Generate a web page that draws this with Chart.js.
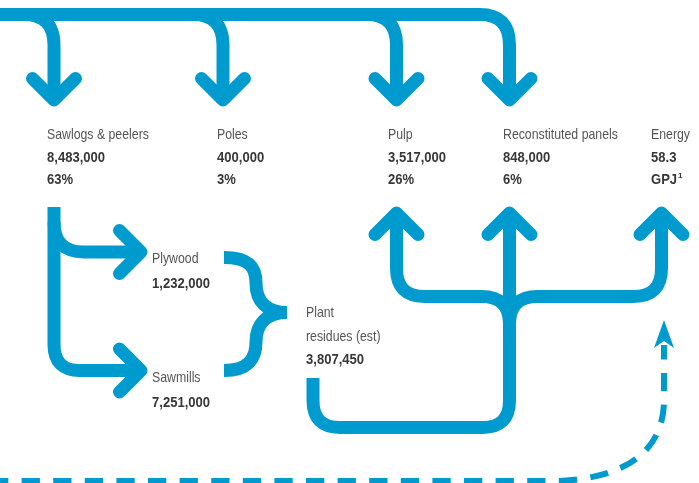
<!DOCTYPE html>
<html>
<head>
<meta charset="utf-8">
<script src="https://cdn.jsdelivr.net/npm/chart.js@4.4.1/dist/chart.umd.min.js"></script>
<style>
  html, body { margin: 0; padding: 0; background: #fff; }
  #wrap { width: 699px; height: 483px; position: relative; }
</style>
</head>
<body>
<div id="wrap"><canvas id="flowChart"></canvas></div>
<script>
// Wood flow diagram
const products = ['Sawlogs & peelers', 'Poles', 'Pulp', 'Reconstituted panels'];
const volumes = [8483000, 400000, 3517000, 848000];
const shares = [63, 3, 26, 6];
const energyLabel = 'Energy';
const energyValue = 58.3;
const energyUnit = 'GPJ';
const processes = ['Plywood', 'Sawmills'];
const processVolumes = [1232000, 7251000];
const residueLabel = ['Plant', 'residues (est)'];
const residueVolume = 3807450;

// layout (in chart units = px)
const stemX = [54, 223, 396.5, 509.5];
const labelX = [47, 217, 388, 503];
const energyX = 651;
const energyStemX = 661.5;
const rowY = [139, 162, 184];
const processY = [252, 370.5];
const processLabelX = 152;
const residueX = 306;

const BLUE = '#009bce';
const GREY = '#555555';
const DARK = '#383838';
const FONT = "'Liberation Sans', Arial, sans-serif";

function fmt(n) { return n.toLocaleString('en-US'); }

function stroke(ctx, sc, cmds, opt) {
  const X = v => sc.x.getPixelForValue(v);
  const Y = v => sc.y.getPixelForValue(v);
  ctx.save();
  ctx.beginPath();
  cmds.forEach(c => {
    if (c[0] === 'M') ctx.moveTo(X(c[1]), Y(c[2]));
    else if (c[0] === 'L') ctx.lineTo(X(c[1]), Y(c[2]));
    else if (c[0] === 'Q') ctx.quadraticCurveTo(X(c[1]), Y(c[2]), X(c[3]), Y(c[4]));
    else if (c[0] === 'C') ctx.bezierCurveTo(X(c[1]), Y(c[2]), X(c[3]), Y(c[4]), X(c[5]), Y(c[6]));
    else if (c[0] === 'Z') ctx.closePath();
  });
  ctx.strokeStyle = BLUE;
  ctx.fillStyle = BLUE;
  ctx.lineWidth = opt.w || 13;
  ctx.lineCap = opt.cap || 'butt';
  ctx.lineJoin = opt.join || 'round';
  if (opt.dash) ctx.setLineDash(opt.dash);
  if (opt.fill) ctx.fill(); else ctx.stroke();
  ctx.restore();
}

function chevron(ctx, sc, x, y, dir) {
  const a = 21.5;
  let pts;
  if (dir === 'down') pts = [[x - a, y - a], [x, y], [x + a, y - a]];
  else if (dir === 'up') pts = [[x - a, y + a], [x, y], [x + a, y + a]];
  else pts = [[x - a, y - a], [x, y], [x - a, y + a]];
  stroke(ctx, sc, [['M', ...pts[0]], ['L', ...pts[1]], ['L', ...pts[2]]], { cap: 'round', join: 'round' });
}

// condensed text: regular font squeezed horizontally
function text(ctx, t, px, py, bold) {
  ctx.save();
  ctx.font = (bold ? 'bold ' : '') + '15px ' + FONT;
  ctx.fillStyle = bold ? DARK : GREY;
  ctx.translate(px, py);
  const k = bold ? 0.87 : 0.82;
  ctx.scale(k, 1);
  ctx.fillText(t, 0, 0);
  const w = ctx.measureText(t).width * k;
  ctx.restore();
  return w;
}

const flowPlugin = {
  id: 'flowPlugin',
  afterDatasetsDraw(chart) {
    const ctx = chart.ctx;
    const sc = chart.scales;
    const tipDown = 100, tipUp = 213, arrowTipX = 141;

    // top distribution bar
    stroke(ctx, sc, [['M', -5, 14.5], ['L', 480, 14.5], ['Q', stemX[3], 14.5, stemX[3], 45], ['L', stemX[3], tipDown]], {});
    for (let i = 0; i < 3; i++) {
      const x = stemX[i];
      stroke(ctx, sc, [['M', x - 30, 14.5], ['Q', x, 14.5, x, 45], ['L', x, tipDown]], {});
    }
    stemX.forEach(x => chevron(ctx, sc, x, tipDown, 'down'));

    // sawlogs -> plywood / sawmills
    const sx = stemX[0];
    stroke(ctx, sc, [['M', sx, 207], ['L', sx, processY[1] - 26], ['Q', sx, processY[1], sx + 26, processY[1]], ['L', arrowTipX, processY[1]]], {});
    stroke(ctx, sc, [['M', sx, processY[0] - 30], ['Q', sx, processY[0], sx + 30, processY[0]], ['L', arrowTipX, processY[0]]], {});
    processY.forEach(y => chevron(ctx, sc, arrowTipX, y, 'right'));

    // brace into plant residues
    stroke(ctx, sc, [['M', 224, 257.5], ['C', 248, 257.5, 256, 266, 256, 283], ['C', 256, 301, 266, 312.5, 287, 312.5]], {});
    stroke(ctx, sc, [['M', 287, 312.5], ['C', 266, 312.5, 256, 324, 256, 342], ['C', 256, 359, 248, 370.5, 224, 370.5]], {});

    // plant residues loop to pulp / panels / energy
    const mx = stemX[3], hy = 296.5, by = 427.5;
    stroke(ctx, sc, [['M', 313, 378], ['L', 313, by - 27], ['Q', 313, by, 340, by], ['L', mx - 27, by], ['Q', mx, by, mx, by - 27], ['L', mx, tipUp]], {});
    stroke(ctx, sc, [['M', stemX[2], tipUp], ['L', stemX[2], hy - 28], ['Q', stemX[2], hy, stemX[2] + 28, hy], ['L', mx - 28, hy], ['Q', mx, hy, mx, hy + 28]], {});
    stroke(ctx, sc, [['M', energyStemX, tipUp], ['L', energyStemX, hy - 28], ['Q', energyStemX, hy, energyStemX - 28, hy], ['L', mx + 28, hy], ['Q', mx, hy, mx, hy + 28]], {});
    [stemX[2], stemX[3], energyStemX].forEach(x => chevron(ctx, sc, x, tipUp, 'up'));

    // dashed energy feed
    const dx = 664;
    stroke(ctx, sc, [['M', -10, 481], ['L', 560, 481], ['C', 620, 478, dx, 455, dx, 400], ['L', dx, 345]], { w: 6, dash: [18.3, 13.3] });
    stroke(ctx, sc, [['M', dx, 320], ['L', dx + 10, 348], ['L', dx, 341], ['L', dx - 10, 348], ['Z']], { fill: true });

    // labels
    const X = v => sc.x.getPixelForValue(v);
    const Y = v => sc.y.getPixelForValue(v);
    ctx.textBaseline = 'alphabetic';
    ctx.textAlign = 'left';
    products.forEach((p, i) => {
      text(ctx, p, X(labelX[i]), Y(rowY[0]), false);
      text(ctx, fmt(volumes[i]), X(labelX[i]), Y(rowY[1]), true);
      text(ctx, shares[i] + '%', X(labelX[i]), Y(rowY[2]), true);
    });
    text(ctx, energyLabel, X(energyX), Y(rowY[0]), false);
    text(ctx, String(energyValue), X(energyX), Y(rowY[1]), true);
    const w = text(ctx, energyUnit, X(energyX), Y(rowY[2]), true);
    ctx.save();
    ctx.font = 'bold 8px ' + FONT;
    ctx.fillStyle = DARK;
    ctx.fillText('1', X(energyX) + w + 1, Y(rowY[2] - 6));
    ctx.restore();

    processes.forEach((p, i) => {
      text(ctx, p, X(processLabelX), Y(processY[i] + 11), false);
      text(ctx, fmt(processVolumes[i]), X(processLabelX), Y(processY[i] + 36), true);
    });
    text(ctx, residueLabel[0], X(residueX), Y(317), false);
    text(ctx, residueLabel[1], X(residueX), Y(341), false);
    text(ctx, fmt(residueVolume), X(residueX), Y(364), true);
  }
};

new Chart(document.getElementById('flowChart'), {
  type: 'scatter',
  data: {
    datasets: [{
      label: 'nodes',
      data: stemX.map(x => ({ x, y: 100 })),
      pointRadius: 0,
      showLine: false
    }]
  },
  options: {
    responsive: true,
    maintainAspectRatio: false,
    animation: false,
    events: [],
    layout: { padding: 0 },
    plugins: { legend: { display: false }, tooltip: { enabled: false } },
    scales: {
      x: { type: 'linear', min: 0, max: 699, display: false },
      y: { type: 'linear', min: 0, max: 483, reverse: true, display: false }
    }
  },
  plugins: [flowPlugin]
});
</script>
</body>
</html>
